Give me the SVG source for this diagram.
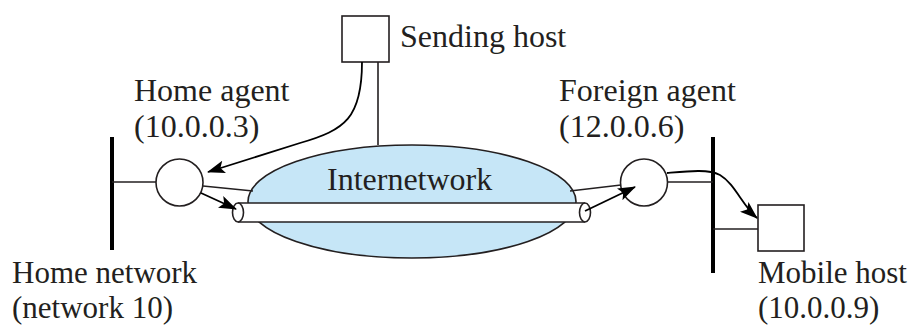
<svg xmlns="http://www.w3.org/2000/svg" width="919" height="325" viewBox="0 0 919 325">
  <style>
    text { font-family: "Liberation Serif", "Times New Roman", serif; font-size: 32px; fill: #231f20; }
    text.low { font-size: 31px; }
    .ln { fill: none; stroke: #231f20; stroke-width: 1.6; }
    .bar { fill: none; stroke: #000; stroke-width: 4; }
    .box { fill: #fff; stroke: #231f20; stroke-width: 1.6; }
    .arr { fill: none; stroke: #000; stroke-width: 1.8; marker-end: url(#head); }
  </style>
  <defs>
    <marker id="head" viewBox="0 0 18 13" refX="17" refY="6.5" markerWidth="18" markerHeight="13" markerUnits="userSpaceOnUse" orient="auto">
      <path d="M0,0 L18,6.5 L0,13 L4,6.5 Z" fill="#000"/>
    </marker>
  </defs>

  <rect width="919" height="325" fill="#fff"/>

  <!-- Internetwork cloud -->
  <g id="internetwork">
    <ellipse cx="412" cy="201.5" rx="164" ry="56.5" fill="#c6e6f7" stroke="#231f20" stroke-width="1.6"/>
    <text x="327" y="190">Internetwork</text>
  </g>

  <!-- Plain links between nodes -->
  <g id="links">
    <line class="bar" x1="112" y1="137" x2="112" y2="250"/>
    <line class="bar" x1="713" y1="137" x2="713" y2="273"/>
    <line class="ln" x1="112" y1="182" x2="156" y2="182"/>
    <line class="ln" x1="203" y1="186" x2="253" y2="191"/>
    <line class="ln" x1="570" y1="191" x2="621" y2="185"/>
    <line class="ln" x1="667" y1="182" x2="713" y2="182"/>
    <line class="ln" x1="713" y1="229" x2="758" y2="229"/>
    <line class="ln" x1="378" y1="62" x2="378" y2="145"/>
  </g>

  <!-- Tunnel through the internetwork -->
  <g id="tunnel">
    <rect x="238" y="203" width="347" height="19" fill="#fff"/>
    <line class="ln" x1="238" y1="203" x2="585" y2="203"/>
    <line class="ln" x1="238" y1="222" x2="585" y2="222"/>
    <ellipse class="box" cx="585" cy="212.5" rx="5.5" ry="9.5"/>
    <ellipse class="box" cx="238" cy="212.5" rx="5.5" ry="9.5"/>
  </g>

  <g id="sending-host">
    <rect class="box" x="342" y="16" width="47" height="46"/>
    <text x="400" y="47">Sending host</text>
  </g>

  <g id="home-agent">
    <circle class="box" cx="179.5" cy="182.5" r="23.5"/>
    <text x="134" y="101">Home agent</text>
    <text x="134" y="137">(10.0.0.3)</text>
  </g>

  <g id="foreign-agent">
    <circle class="box" cx="644" cy="182.5" r="23.5"/>
    <text x="559" y="101">Foreign agent</text>
    <text x="559" y="137">(12.0.0.6)</text>
  </g>

  <g id="mobile-host">
    <rect class="box" x="758" y="205" width="46" height="46"/>
    <text class="low" x="758" y="283">Mobile host</text>
    <text class="low" x="758" y="318">(10.0.0.9)</text>
  </g>

  <g id="home-network">
    <text class="low" x="12" y="283">Home network</text>
    <text class="low" x="12" y="318">(network 10)</text>
  </g>

  <!-- Datagram path -->
  <g id="connectors">
    <path class="arr" d="M362,62 C362,118 345,130 300,143 L208,172"/>
    <path class="arr" d="M201,193 L236,209"/>
    <path class="arr" d="M585,211 L635,187"/>
    <path class="arr" d="M667,173 C690,171 708,169 720,175 C735,184 742,205 757,218"/>
  </g>
</svg>
